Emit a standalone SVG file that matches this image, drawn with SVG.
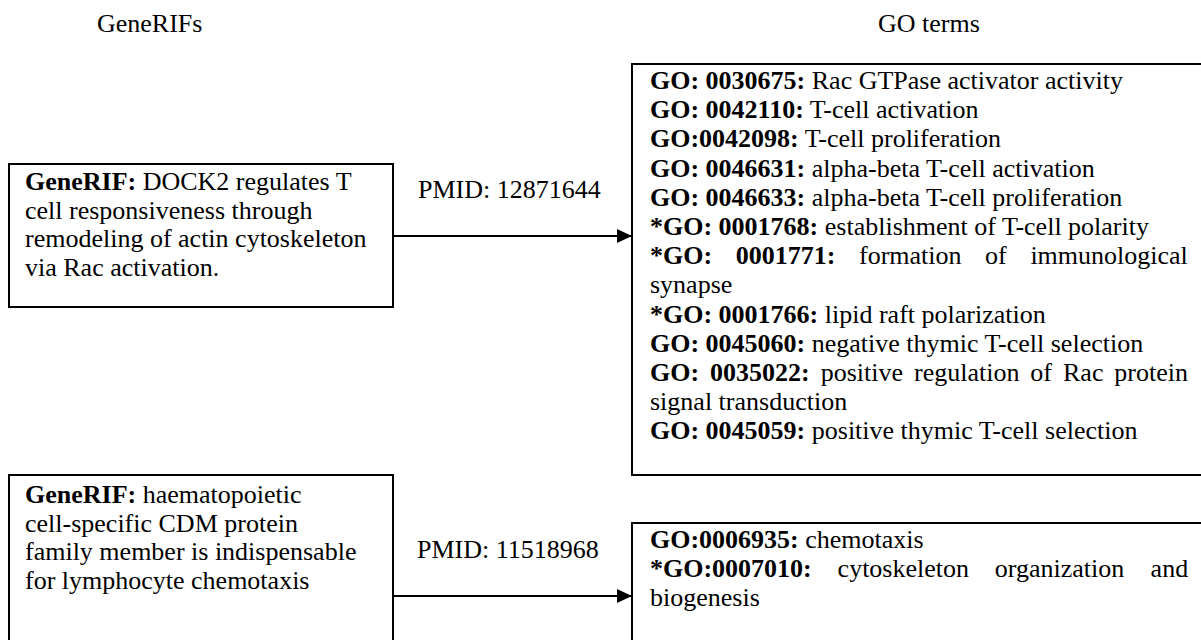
<svg xmlns="http://www.w3.org/2000/svg" width="1201" height="640" viewBox="0 0 1201 640">
<defs>
<style>
text{font-family:"Liberation Serif","Times New Roman",serif;font-size:26px;fill:#000}
.b{font-weight:bold}
.box{fill:#fff;stroke:#000;stroke-width:2}
.con{stroke:#000;stroke-width:2;fill:none}
</style>
<marker id="ah" markerUnits="userSpaceOnUse" markerWidth="15" markerHeight="14" refX="15" refY="7" orient="auto">
<path d="M0,0 L15,7 L0,14 z" fill="#000"/>
</marker>
</defs>
<rect width="1201" height="640" fill="#fff"/>
<g id="titles">
<text x="97" y="32">GeneRIFs</text>
<text x="878" y="32">GO terms</text>
</g>
<g id="generif1">
<rect class="box" x="9" y="164" width="384" height="143"/>
<text x="25" y="190"><tspan class="b">GeneRIF:</tspan> DOCK2 regulates T</text>
<text x="25" y="218.5">cell responsiveness through</text>
<text x="25" y="247">remodeling of actin cytoskeleton</text>
<text x="25" y="275.5">via Rac activation.</text>
</g>
<g id="go1">
<rect class="box" x="632" y="64" width="600" height="411"/>
<text x="650" y="89"><tspan class="b">GO: 0030675:</tspan> Rac GTPase activator activity</text>
<text x="650" y="118.2"><tspan class="b">GO: 0042110:</tspan> T-cell activation</text>
<text x="650" y="147.4"><tspan class="b">GO:0042098:</tspan> T-cell proliferation</text>
<text x="650" y="176.6"><tspan class="b">GO: 0046631:</tspan> alpha-beta T-cell activation</text>
<text x="650" y="205.8"><tspan class="b">GO: 0046633:</tspan> alpha-beta T-cell proliferation</text>
<text x="650" y="235"><tspan class="b">*GO: 0001768:</tspan> establishment of T-cell polarity</text>
<text y="264.2"><tspan class="b" x="650">*GO:</tspan><tspan class="b" x="735.7">0001771:</tspan><tspan x="859">formation</tspan><tspan x="985.1">of</tspan><tspan x="1030.4">immunological</tspan></text>
<text x="650" y="293.4">synapse</text>
<text x="650" y="322.6"><tspan class="b">*GO: 0001766:</tspan> lipid raft polarization</text>
<text x="650" y="351.8"><tspan class="b">GO: 0045060:</tspan> negative thymic T-cell selection</text>
<text y="381"><tspan class="b" x="650">GO:</tspan><tspan class="b" x="710">0035022:</tspan><tspan x="820.7">positive</tspan><tspan x="914">regulation</tspan><tspan x="1030.3">of</tspan><tspan x="1063">Rac</tspan><tspan x="1114.3">protein</tspan></text>
<text x="650" y="410.2">signal transduction</text>
<text x="650" y="439.4"><tspan class="b">GO: 0045059:</tspan> positive thymic T-cell selection</text>
</g>
<g id="generif2">
<rect class="box" x="9" y="475" width="384" height="200"/>
<text x="25" y="503"><tspan class="b">GeneRIF:</tspan> haematopoietic</text>
<text x="25" y="531.5">cell-specific CDM protein</text>
<text x="25" y="560">family member is indispensable</text>
<text x="25" y="588.5">for lymphocyte chemotaxis</text>
</g>
<g id="go2">
<rect class="box" x="632" y="523" width="600" height="200"/>
<text x="650" y="548"><tspan class="b">GO:0006935:</tspan> chemotaxis</text>
<text y="577.2"><tspan class="b" x="650">*GO:0007010:</tspan><tspan x="837.6">cytoskeleton</tspan><tspan x="994.8">organization</tspan><tspan x="1150.6">and</tspan></text>
<text x="650" y="606.4">biogenesis</text>
</g>
<g id="connectors">
<line class="con" x1="393" y1="236" x2="632" y2="236" marker-end="url(#ah)"/>
<text x="418" y="198">PMID: 12871644</text>
<line class="con" x1="393" y1="596" x2="632" y2="596" marker-end="url(#ah)"/>
<text x="417" y="558">PMID: 11518968</text>
</g>
</svg>
